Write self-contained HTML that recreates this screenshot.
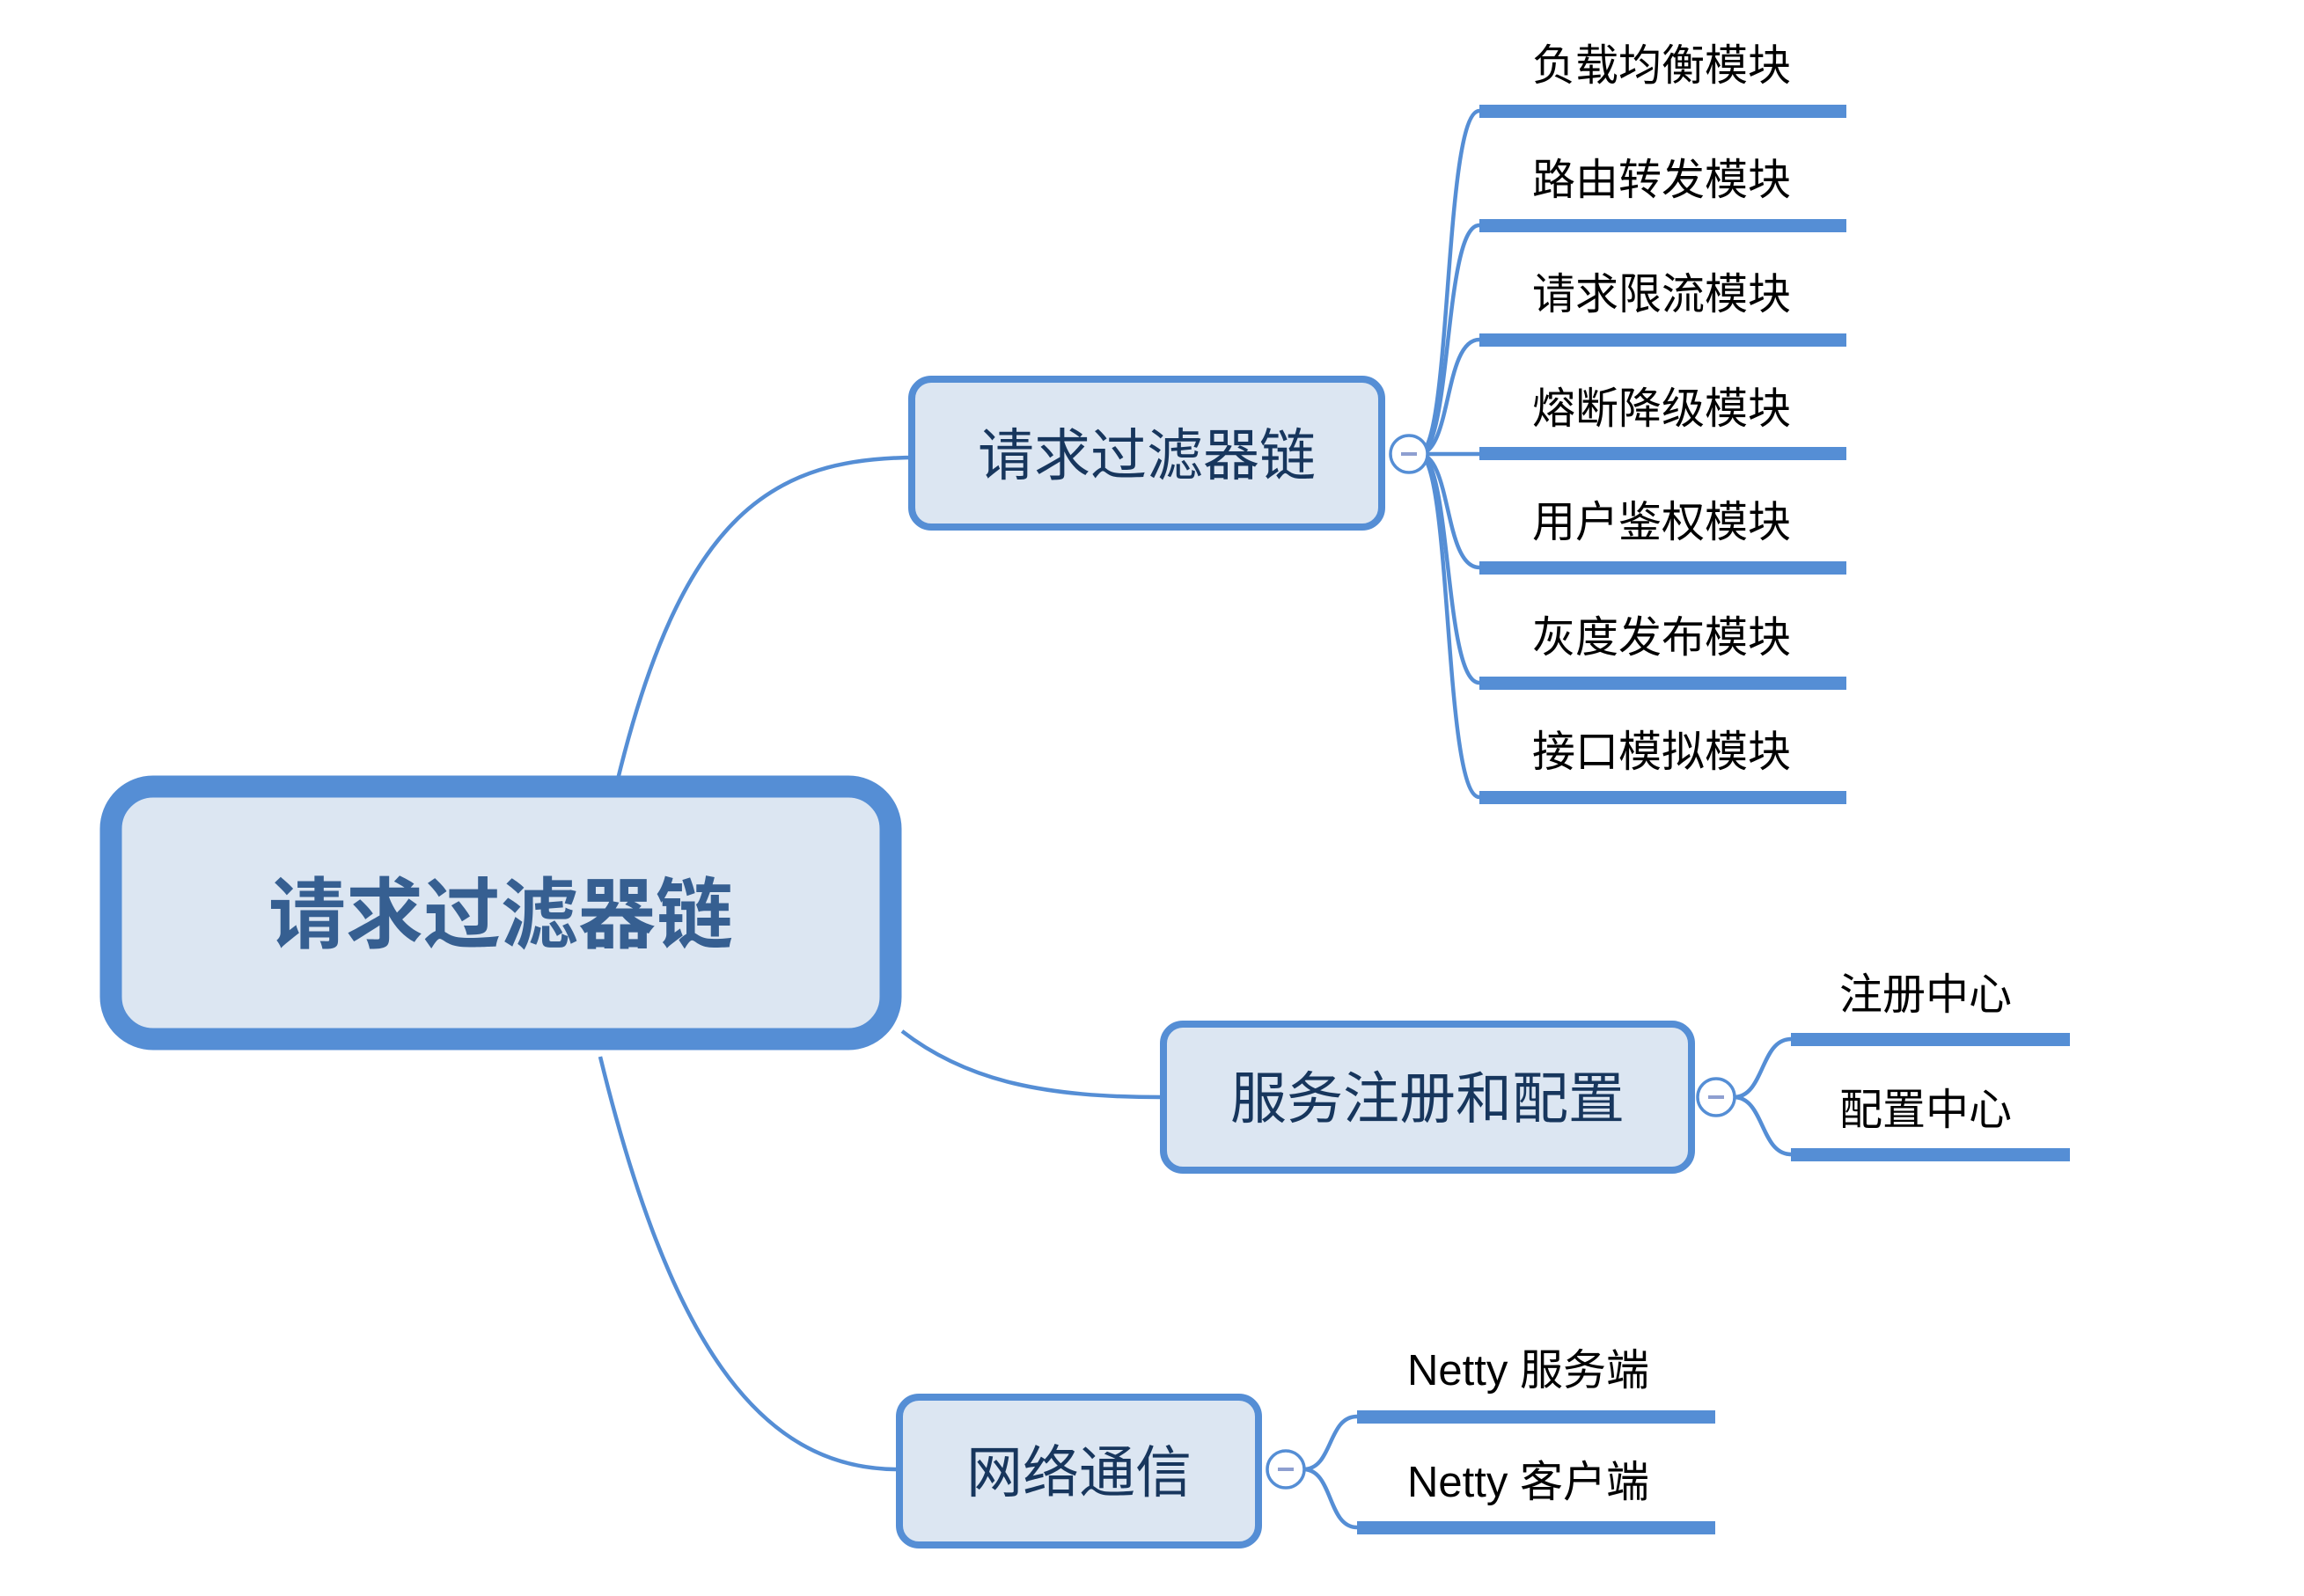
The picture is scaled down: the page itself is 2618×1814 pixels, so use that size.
<!DOCTYPE html>
<html><head><meta charset="utf-8"><style>
html,body{margin:0;padding:0;background:#fff;}
svg{display:block;}
text{font-family:"Liberation Sans","Noto Sans CJK SC",sans-serif;}
</style></head><body>
<svg width="2618" height="1814" viewBox="0 0 2618 1814" xmlns="http://www.w3.org/2000/svg">
<g fill="none" stroke="#558ed5" stroke-width="4.5">
<path d="M700,894 C775,580 880,520 1042,520"/>
<path d="M1025,1172 C1100,1230 1190,1247 1320,1247"/>
<path d="M682,1201 C760,1520 860,1670 1020,1670"/>
<path d="M1580,516 L1681,516"/>
<path d="M1612,516 C1650,516 1640,126 1681,126"/>
<path d="M1612,516 C1650,516 1640,256 1681,256"/>
<path d="M1612,516 C1650,516 1640,386 1681,386"/>
<path d="M1612,516 C1650,516 1640,645 1681,645"/>
<path d="M1612,516 C1650,516 1640,776 1681,776"/>
<path d="M1612,516 C1650,516 1640,906 1681,906"/>
<path d="M1970,1247 C2005,1247 2000,1181 2035,1181"/>
<path d="M1970,1247 C2005,1247 2000,1312 2035,1312"/>
<path d="M1481,1670 C1515,1670 1508,1610 1542,1610"/>
<path d="M1481,1670 C1515,1670 1508,1736 1542,1736"/>
</g>
<g fill="#558ed5">
<rect x="1681" y="119" width="417" height="15"/>
<rect x="1681" y="249" width="417" height="15"/>
<rect x="1681" y="379" width="417" height="15"/>
<rect x="1681" y="508" width="417" height="15"/>
<rect x="1681" y="638" width="417" height="15"/>
<rect x="1681" y="769" width="417" height="15"/>
<rect x="1681" y="899" width="417" height="15"/>
<rect x="2035" y="1174" width="317" height="15"/>
<rect x="2035" y="1305" width="317" height="15"/>
<rect x="1542" y="1603" width="407" height="15"/>
<rect x="1542" y="1729" width="407" height="15"/>
</g>
<rect x="126" y="894" width="886" height="287" rx="48" fill="#dce6f2" stroke="#558ed5" stroke-width="25"/>
<text x="569" y="1040" font-size="88" font-weight="bold" fill="#365f91" text-anchor="middle" dominant-baseline="central">请求过滤器链</text>
<rect x="1036" y="431" width="534" height="168" rx="22" fill="#dce6f2" stroke="#558ed5" stroke-width="8"/>
<text x="1303" y="518" font-size="64" fill="#17365d" text-anchor="middle" dominant-baseline="central">请求过滤器链</text>
<rect x="1322" y="1164" width="600" height="166" rx="22" fill="#dce6f2" stroke="#558ed5" stroke-width="8"/>
<text x="1622" y="1249" font-size="64" fill="#17365d" text-anchor="middle" dominant-baseline="central">服务注册和配置</text>
<rect x="1022" y="1588" width="408" height="168" rx="22" fill="#dce6f2" stroke="#558ed5" stroke-width="8"/>
<text x="1226" y="1674" font-size="64" fill="#17365d" text-anchor="middle" dominant-baseline="central">网络通信</text>
<g fill="#fff" stroke="#558ed5" stroke-width="3.5">
<circle cx="1601" cy="516" r="21"/>
<circle cx="1950" cy="1247" r="21"/>
<circle cx="1461" cy="1670" r="21"/>
</g>
<g stroke="#8e9fd0" stroke-width="4">
<line x1="1592" y1="516" x2="1610" y2="516"/>
<line x1="1941" y1="1247" x2="1959" y2="1247"/>
<line x1="1452" y1="1670" x2="1470" y2="1670"/>
</g>
<g font-size="49" fill="#000" dominant-baseline="central">
<text x="1741" y="75">负载均衡模块</text>
<text x="1741" y="205">路由转发模块</text>
<text x="1741" y="335">请求限流模块</text>
<text x="1741" y="465">熔断降级模块</text>
<text x="1741" y="594">用户鉴权模块</text>
<text x="1741" y="725">灰度发布模块</text>
<text x="1741" y="855">接口模拟模块</text>
<text x="2090" y="1131">注册中心</text>
<text x="2090" y="1262">配置中心</text>
<text x="1599" y="1558">Netty 服务端</text>
<text x="1599" y="1685">Netty 客户端</text>
</g>
</svg>
</body></html>
